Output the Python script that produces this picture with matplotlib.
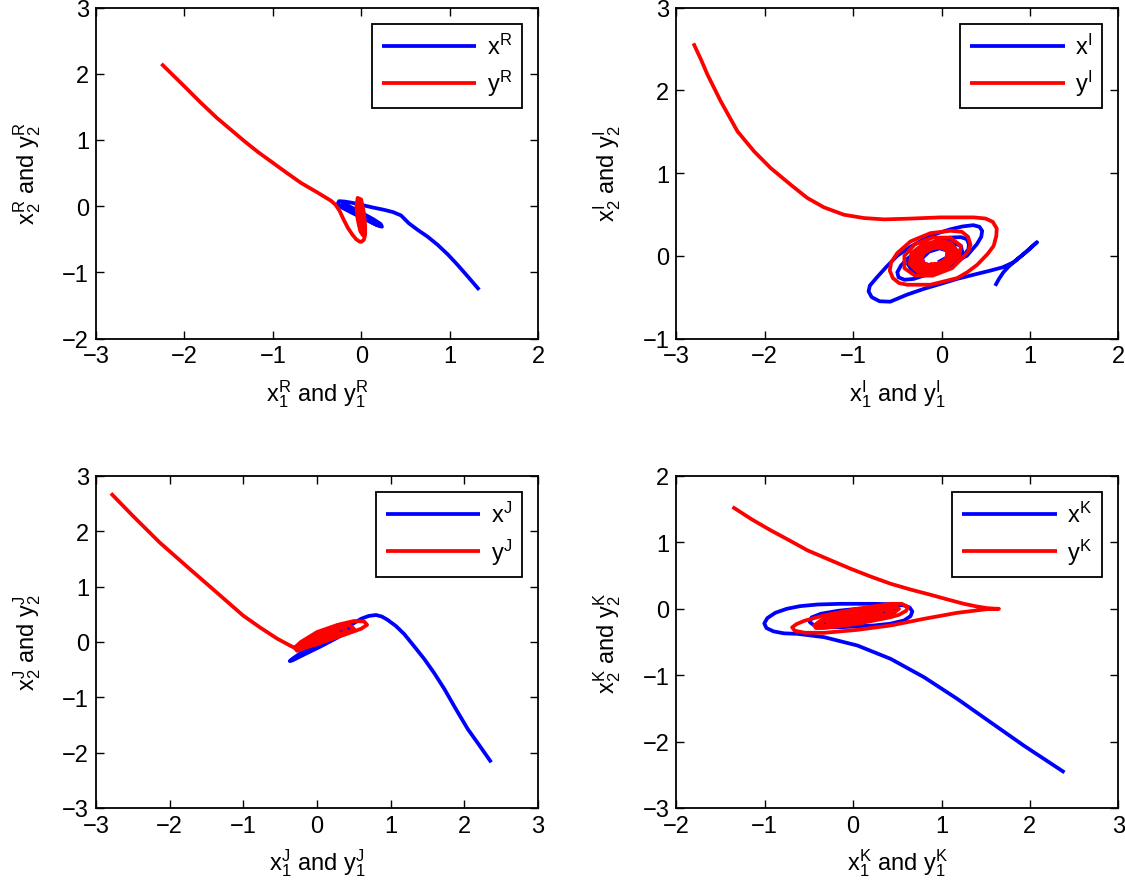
import matplotlib
matplotlib.use("Agg")
import matplotlib.pyplot as plt

plt.rcParams['font.family'] = ['Liberation Sans', 'DejaVu Sans']
plt.rcParams['mathtext.fontset'] = 'custom'
plt.rcParams['mathtext.rm'] = 'Liberation Sans'
plt.rcParams['mathtext.it'] = 'Liberation Sans'
plt.rcParams['mathtext.bf'] = 'Liberation Sans'

# ---------------- data ----------------
# Panel R
xR_x = [1.335, 1.21, 1.09, 0.98, 0.865, 0.75, 0.64, 0.54, 0.45, 0.36, 0.26, 0.13, 0.0, -0.1, -0.19, -0.25, -0.265,
        -0.22, -0.12, 0.0, 0.12, 0.2, 0.235,
        0.22, 0.14, 0.03, -0.08, -0.17, -0.21, -0.2, -0.13, -0.02, 0.09, 0.17, 0.19, 0.15, 0.06, -0.05, -0.14,
        -0.15, -0.08, 0.03, 0.12, 0.14, 0.07, -0.03, -0.09, -0.05, 0.04, 0.08, 0.04, -0.01]
xR_y = [-1.264, -1.07, -0.887, -0.73, -0.585, -0.46, -0.36, -0.26, -0.14, -0.09, -0.056, -0.02, 0.02, 0.05, 0.07, 0.075,
        0.04, -0.02, -0.09, -0.17, -0.25, -0.3, -0.31,
        -0.27, -0.2, -0.12, -0.04, 0.02, 0.03, 0.0, -0.06, -0.14, -0.22, -0.28, -0.28, -0.23, -0.16, -0.08, -0.02,
        -0.03, -0.09, -0.17, -0.23, -0.22, -0.16, -0.09, -0.06, -0.1, -0.16, -0.18, -0.14, -0.12]
yR_x = [-2.26, -2.0, -1.82, -1.63, -1.47, -1.32, -1.17, -1.02, -0.85, -0.68, -0.5, -0.34, -0.29, -0.245, -0.2,
        -0.15, -0.1, -0.057, -0.02, 0.0, 0.03, 0.045, 0.045, 0.03, 0.0, -0.04,
        -0.055, -0.04, -0.01, 0.02, 0.035, 0.03, 0.0, -0.03, -0.04, -0.02, 0.01, 0.025, 0.02, 0.0, -0.02, -0.015,
        0.01, 0.015, 0.0, -0.005]
yR_y = [2.15, 1.81, 1.57, 1.33, 1.15, 0.98, 0.82, 0.675, 0.51, 0.35, 0.21, 0.08, 0.02, -0.07, -0.2,
        -0.33, -0.43, -0.5, -0.535, -0.54, -0.51, -0.43, -0.3, -0.1, 0.1, 0.125,
        0.0, -0.2, -0.38, -0.44, -0.35, -0.15, 0.05, 0.06, -0.08, -0.28, -0.37, -0.28, -0.1, 0.0, -0.05, -0.22,
        -0.3, -0.2, -0.12, -0.18]

# Panel I
xI_x = [0.607, 0.65, 0.70, 0.76, 0.814, 0.95, 1.078, 0.95, 0.814, 0.69, 0.55, 0.36, 0.174, -0.01, -0.2, -0.39,
        -0.58, -0.7, -0.79, -0.825, -0.81, -0.73, -0.62, -0.5, -0.35, -0.2, -0.05,
        0.1, 0.24, 0.36, 0.43, 0.46, 0.45, 0.4, 0.287, 0.14, -0.015, -0.17, -0.316, -0.42, -0.486, -0.5, -0.46, -0.39,
        -0.28, -0.165, -0.03, 0.1, 0.22, 0.287, 0.31, 0.305, 0.22, 0.05,
        -0.15, -0.32, -0.38, -0.3, -0.12, 0.08, 0.22, 0.24, 0.14, -0.03, -0.2, -0.3, -0.27, -0.14, 0.02, 0.15, 0.17,
        0.07, -0.08, -0.2, -0.22, -0.14, -0.02, 0.07, 0.06, -0.04]
xI_y = [-0.363, -0.28, -0.20, -0.13, -0.08, 0.04, 0.162, 0.04, -0.08, -0.14, -0.18, -0.23, -0.28, -0.34, -0.40, -0.47,
        -0.555, -0.55, -0.5, -0.43, -0.36, -0.26, -0.13, 0.0, 0.11, 0.2, 0.27,
        0.32, 0.355, 0.37, 0.35, 0.30, 0.23, 0.14, 0.0, -0.08, -0.16, -0.23, -0.28, -0.29, -0.26, -0.2, -0.12, -0.04,
        0.05, 0.12, 0.18, 0.22, 0.225, 0.2, 0.14, 0.08, -0.04, -0.15,
        -0.22, -0.2, -0.1, 0.04, 0.15, 0.18, 0.12, 0.02, -0.08, -0.16, -0.17, -0.1, 0.0, 0.1, 0.14, 0.1, 0.02,
        -0.07, -0.12, -0.1, -0.03, 0.05, 0.09, 0.06, -0.02, -0.08]
yI_x = [-2.806, -2.72, -2.647, -2.497, -2.308, -2.12, -1.932, -1.706, -1.517, -1.329, -1.103, -0.877, -0.65, -0.388,
        -0.011, 0.366, 0.5, 0.58, 0.625, 0.62, 0.59, 0.52, 0.403, 0.29, 0.177, -0.124, -0.388, -0.48, -0.55, -0.585,
        -0.57, -0.5, -0.35, -0.124, 0.102, 0.23, 0.3, 0.328, 0.3, 0.253,
        0.12, -0.1, -0.3, -0.42, -0.42, -0.3, -0.1, 0.1, 0.22, 0.2,
        0.08, -0.1, -0.27, -0.36, -0.34, -0.22, -0.05, 0.1, 0.17, 0.14,
        0.06, -0.1, -0.255, -0.33, -0.305, -0.19, -0.04, 0.09, 0.145, 0.11,
        0.04, -0.1, -0.24, -0.3, -0.27, -0.16, -0.03, 0.08, 0.12, 0.08,
        0.015, -0.11, -0.22, -0.27, -0.23, -0.13, -0.02, 0.07, 0.095, 0.055,
        -0.01, -0.12, -0.2, -0.23, -0.19, -0.1, 0.0, 0.06, 0.07, 0.03, -0.05, -0.13]
yI_y = [2.568, 2.37, 2.189, 1.867, 1.504, 1.262, 1.06, 0.859, 0.698, 0.585, 0.496, 0.456, 0.44, 0.448,
        0.464, 0.464, 0.45, 0.41, 0.33, 0.24, 0.12, 0.02, -0.11, -0.2, -0.27, -0.35, -0.35, -0.33, -0.27, -0.18,
        -0.08, 0.033, 0.174, 0.274, 0.302, 0.29, 0.23, 0.133, 0.05, -0.008,
        -0.15, -0.24, -0.24, -0.15, 0.0, 0.14, 0.22, 0.22, 0.12, 0.0,
        -0.12, -0.2, -0.19, -0.1, 0.03, 0.13, 0.18, 0.16, 0.07, -0.04,
        -0.115, -0.18, -0.165, -0.08, 0.035, 0.12, 0.16, 0.135, 0.055, -0.04,
        -0.11, -0.16, -0.14, -0.06, 0.04, 0.11, 0.14, 0.11, 0.04, -0.04,
        -0.10, -0.14, -0.115, -0.045, 0.04, 0.1, 0.12, 0.085, 0.02, -0.04,
        -0.09, -0.12, -0.09, -0.03, 0.04, 0.09, 0.1, 0.06, 0.0, -0.06, -0.1, -0.1]

# Panel J
xJ_x = [2.365, 2.2, 2.046, 1.88, 1.729, 1.59, 1.456, 1.32, 1.183, 1.07, 0.955, 0.88, 0.8, 0.7, 0.6, 0.45, 0.2, 0.0,
        -0.2, -0.33, -0.37, -0.33, -0.15,
        0.05, 0.25, 0.4, 0.45, 0.35, 0.15, -0.05, -0.2, -0.22, -0.1, 0.1, 0.25, 0.28, 0.15, 0.0]
xJ_y = [-2.174, -1.86, -1.572, -1.2, -0.849, -0.56, -0.307, -0.08, 0.145, 0.29, 0.403, 0.46, 0.488, 0.47, 0.42, 0.3,
        0.12, -0.02, -0.18, -0.3, -0.345, -0.33, -0.21,
        -0.08, 0.06, 0.17, 0.22, 0.17, 0.04, -0.09, -0.18, -0.18, -0.1, 0.03, 0.12, 0.13, 0.06, -0.03]
yJ_x = [-2.797, -2.5, -2.137, -1.727, -1.364, -1.0, -0.77, -0.54, -0.4, -0.3, -0.27, -0.09, 0.14, 0.37, 0.6, 0.68,
        0.64, 0.5, 0.28, 0.0, -0.22, -0.3, -0.24, 0.0, 0.2, 0.4, 0.5, 0.45, 0.3, 0.1, -0.1, -0.22, -0.15, 0.05,
        0.25, 0.4, 0.38, 0.22, 0.02, -0.15, -0.17, -0.05, 0.15, 0.3, 0.28, 0.1, -0.06, -0.08, 0.05, 0.18, 0.15, 0.05]
yJ_y = [2.686, 2.28, 1.80, 1.319, 0.898, 0.475, 0.26, 0.06, -0.04, -0.11, -0.16, -0.07, 0.03, 0.13, 0.24, 0.31,
        0.37, 0.38, 0.31, 0.18, 0.0, -0.1, -0.12, -0.04, 0.06, 0.16, 0.24, 0.3, 0.28, 0.18, 0.05, -0.06, -0.07, 0.01,
        0.1, 0.2, 0.25, 0.22, 0.12, 0.0, -0.04, -0.02, 0.06, 0.15, 0.19, 0.13, 0.04, 0.0, 0.04, 0.1, 0.11, 0.06]

# Panel K
xK_x = [2.391, 1.932, 1.555, 1.179, 0.802, 0.425, 0.049, -0.328, -0.629, -0.78, -0.9, -0.98, -1.005, -0.97, -0.88,
        -0.75, -0.6, -0.4, -0.14, 0.237, 0.45, 0.576, 0.64, 0.67, 0.65, 0.576, 0.42, 0.237, -0.14, -0.35, -0.44, -0.49,
        -0.47, -0.365, -0.17, 0.049, 0.3, 0.425, 0.48, 0.45, 0.35, 0.0, -0.3,
        -0.35, -0.2, 0.1, 0.35, 0.3, 0.0, -0.2, -0.1, 0.1]
xK_y = [-2.464, -2.061, -1.709, -1.357, -1.03, -0.754, -0.553, -0.427, -0.377, -0.37, -0.34, -0.29, -0.22, -0.14, -0.06,
        0.0, 0.04, 0.065, 0.075, 0.075, 0.068, 0.05, 0.02, -0.04, -0.11, -0.176, -0.225, -0.251, -0.277, -0.27, -0.25, -0.2,
        -0.13, -0.075, -0.03, 0.0, 0.012, 0.01, -0.03, -0.08, -0.126, -0.2, -0.22,
        -0.17, -0.1, -0.06, -0.05, -0.1, -0.16, -0.17, -0.13, -0.11]
yK_x = [-1.364, -1.15, -0.931, -0.72, -0.516, -0.27, -0.027, 0.2, 0.425, 0.65, 0.877, 1.07, 1.254, 1.4, 1.517, 1.6, 1.65,
        1.58, 1.517, 1.179, 0.802, 0.425, 0.049,
        -0.328, -0.55, -0.66, -0.69, -0.64, -0.55, -0.328, 0.049, 0.425, 0.55, 0.62, 0.6, 0.52, 0.425, 0.049, -0.328,
        -0.42, -0.44, -0.365,
        -0.2, 0.05, 0.3, 0.48, 0.52, 0.45, 0.2, -0.05, -0.28, -0.38, -0.33, -0.15, 0.1, 0.35, 0.45, 0.38, 0.15,
        -0.1, -0.28, -0.3, -0.12, 0.1, 0.3, 0.33, 0.15, -0.05, -0.2, -0.15, 0.05, 0.2, 0.1, 0.0]
yK_y = [1.534, 1.35, 1.181, 1.03, 0.88, 0.74, 0.603, 0.485, 0.377, 0.29, 0.211, 0.14, 0.075, 0.035, 0.01, 0.002, 0.0,
        -0.002, -0.005, -0.06, -0.151, -0.251, -0.317,
        -0.362, -0.36, -0.33, -0.28, -0.23, -0.18, -0.1, 0.0, 0.075, 0.075, 0.03, -0.03, -0.09, -0.126, -0.226, -0.29,
        -0.29, -0.25, -0.176,
        -0.1, -0.05, 0.0, 0.03, 0.0, -0.07, -0.15, -0.22, -0.26, -0.24, -0.18, -0.11, -0.06, -0.02, -0.03, -0.08, -0.15,
        -0.2, -0.22, -0.19, -0.13, -0.09, -0.06, -0.08, -0.13, -0.17, -0.18, -0.15, -0.11, -0.1, -0.12, -0.13]

panels = [
    dict(key='R', xs=(xR_x, xR_y), ys=(yR_x, yR_y), xlim=(-3, 2), ylim=(-2, 3),
         xticks=[-3, -2, -1, 0, 1, 2], yticks=[-2, -1, 0, 1, 2, 3]),
    dict(key='I', xs=(xI_x, xI_y), ys=(yI_x, yI_y), xlim=(-3, 2), ylim=(-1, 3),
         xticks=[-3, -2, -1, 0, 1, 2], yticks=[-1, 0, 1, 2, 3]),
    dict(key='J', xs=(xJ_x, xJ_y), ys=(yJ_x, yJ_y), xlim=(-3, 3), ylim=(-3, 3),
         xticks=[-3, -2, -1, 0, 1, 2, 3], yticks=[-3, -2, -1, 0, 1, 2, 3]),
    dict(key='K', xs=(xK_x, xK_y), ys=(yK_x, yK_y), xlim=(-2, 3), ylim=(-3, 2),
         xticks=[-2, -1, 0, 1, 2, 3], yticks=[-3, -2, -1, 0, 1, 2]),
]

W, H = 1125, 895
fig = plt.figure(figsize=(W / 100, H / 100), dpi=100)

rects = [
    (96, 8.6, 538, 339.5),
    (676.3, 8.6, 1118.3, 339.5),
    (96, 477, 538, 809),
    (676.3, 477, 1118.3, 809),
]

FS = 17
for p, (l, t, r, b) in zip(panels, rects):
    ax = fig.add_axes([l / W, 1 - b / H, (r - l) / W, (b - t) / H])
    k = p['key']
    ax.plot(p['xs'][0], p['xs'][1], color='#0000ff', lw=2.7, solid_joinstyle='round',
            solid_capstyle='butt', label=r'x$^\mathrm{%s}$' % k)
    ax.plot(p['ys'][0], p['ys'][1], color='#ff0000', lw=2.7, solid_joinstyle='round',
            solid_capstyle='butt', label=r'y$^\mathrm{%s}$' % k)
    ax.set_xlim(*p['xlim'])
    ax.set_ylim(*p['ylim'])
    ax.set_xticks(p['xticks'])
    ax.set_yticks(p['yticks'])
    ax.tick_params(direction='in', top=True, right=True, length=6, width=1.0,
                   labelsize=FS, pad=5)
    for s in ax.spines.values():
        s.set_linewidth(1.3)
    ax.set_xlabel(r'x$_1^\mathrm{%s}$ and y$_1^\mathrm{%s}$' % (k, k), fontsize=FS, labelpad=7)
    ax.set_ylabel(r'x$_2^\mathrm{%s}$ and y$_2^\mathrm{%s}$' % (k, k), fontsize=FS, labelpad=14)
    leg = ax.legend(loc='upper right', fontsize=FS, handlelength=4.0, handletextpad=0.45,
                    labelspacing=0.4, borderaxespad=0.68, fancybox=False, framealpha=1,
                    borderpad=0.42)
    leg.get_frame().set_edgecolor('black')
    leg.get_frame().set_linewidth(1.3)

fig.savefig('out.png', dpi=100)
